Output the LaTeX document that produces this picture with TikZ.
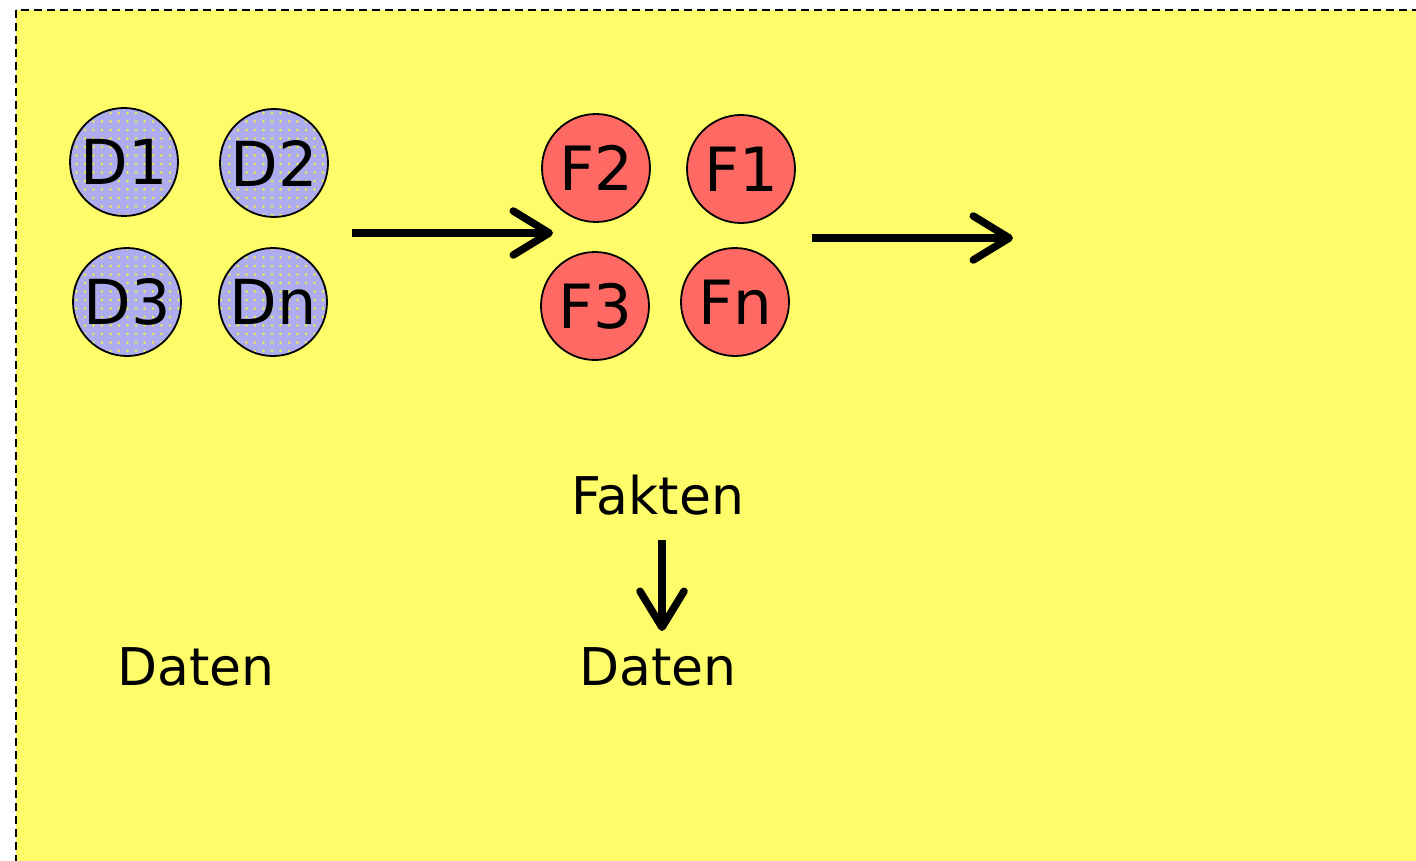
\documentclass[tikz,border=0pt]{standalone}
\usepackage{fontspec}
\setmainfont{DejaVu Sans}
\usetikzlibrary{arrows.meta,patterns.meta}
\definecolor{bgyellow}{RGB}{254,252,105}
\definecolor{dblue}{RGB}{172,172,238}
\definecolor{fred}{RGB}{255,105,100}
\definecolor{dotyellow}{RGB}{240,240,60}
\tikzset{
  dnode/.style={circle, draw=black, line width=1.8pt, minimum size=108pt, inner sep=0pt,
    preaction={fill=dblue}, pattern={Dots[distance=8.5pt,radius=1.4pt]}, pattern color=dotyellow,
    font=\fontsize{62}{62}\selectfont},
  fnode/.style={circle, draw=black, line width=1.8pt, minimum size=108pt, inner sep=0pt,
    fill=fred, font=\fontsize{61}{61}\selectfont},
  lbl/.style={inner sep=0pt, font=\fontsize{52}{52}\selectfont},
  bigarrow/.style={line width=7.5pt, -{Straight Barb[length=36pt,width=44pt,round,line width=7.5pt]}},
}
\begin{document}
\begin{tikzpicture}[x=1pt,y=-1pt]
\useasboundingbox (0,0) rectangle (1416,861);
\begin{scope}
\clip (0,0) rectangle (1416,861);
\draw[fill=bgyellow, dash pattern=on 8pt off 5pt, line width=2pt] (16,10) rectangle (1440,900);
\end{scope}
% D nodes
\node[dnode] (d1) at (124,162) {D1};
\node[dnode] (d2) at (274,163) {D2};
\node[dnode] (d3) at (127,302) {D3};
\node[dnode] (dn) at (273,302) {Dn};
% F nodes
\node[fnode] (f2) at (596,168) {F2};
\node[fnode] (f1) at (741,169) {F1};
\node[fnode] (f3) at (595,306) {F3};
\node[fnode] (fn) at (735,302) {Fn};
% labels
\node[lbl] (fakten) at (658,495) {Fakten};
\node[lbl] (datenL) at (196,667) {Daten};
\node[lbl] (datenR) at (658,667) {Daten};
% arrows
\coordinate (a1s) at (352,233);
\coordinate (a1e) at (553,233);
\coordinate (a2s) at (812,238);
\coordinate (a2e) at (1013,238);
\coordinate (a3s) at (662,540);
\coordinate (a3e) at (662,631);
\draw[bigarrow] (a1s) -- (a1e);
\draw[bigarrow] (a2s) -- (a2e);
\draw[bigarrow] (a3s) -- (a3e);
\end{tikzpicture}
\end{document}
